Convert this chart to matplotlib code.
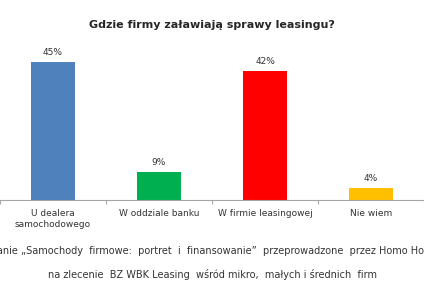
import matplotlib
matplotlib.use("Agg")
import matplotlib.pyplot as plt
import numpy as np

# chart data
categories = ["U dealera\nsamochodowego", "W oddziale banku", "W firmie leasingowej", "Nie wiem"]
values = [45, 9, 42, 4]
value_labels = ["45%", "9%", "42%", "4%"]
colors = ["#4F81BD", "#00B050", "#FF0000", "#FFC000"]

title = "Gdzie firmy załawiają sprawy leasingu?"
note_1 = "Badanie „Samochody  firmowe:  portret  i  finansowanie”  przeprowadzone  przez Homo Homini"
note_2 = "na zlecenie  BZ WBK Leasing  wśród mikro,  małych i średnich  firm"

W, H = 424, 285
fig = plt.figure(figsize=(W / 100, H / 100), dpi=100)
fig.patch.set_facecolor("white")

# axes placed in pixel terms: baseline at y=200, 1% ~ 3.07 px
ax = fig.add_axes([0, (H - 200) / H, 1, 153.5 / H])
x = np.arange(len(values))
ax.bar(x, values, width=0.41, color=colors)
ax.set_xlim(-0.5, len(values) - 0.5)
ax.set_ylim(0, 50)

for xi, v, lab in zip(x, values, value_labels):
    ax.text(xi, v + 1.6, lab, ha="center", va="bottom", fontsize=6.5, color="#333333")

for s in ["top", "left", "right"]:
    ax.spines[s].set_visible(False)
ax.spines["bottom"].set_color("#A6A6A6")
ax.spines["bottom"].set_linewidth(0.8)
ax.set_yticks([])

ax.set_xticks(x)
ax.set_xticklabels(categories, fontsize=6.5, color="#333333", linespacing=1.35)
ax.tick_params(axis="x", which="major", length=0, pad=6.5)
ax.set_xticks(np.arange(-0.5, len(values)), minor=True)
ax.tick_params(axis="x", which="minor", length=3, color="#A6A6A6", width=0.8)

fig.text(0.5, 1 - 25 / H, title, ha="center", va="center", fontsize=8.0,
         fontweight="bold", color="#262626")
fig.text(0.5, 1 - 251 / H, note_1, ha="center", va="center", fontsize=7.0, color="#333333")
fig.text(0.5, 1 - 274 / H, note_2, ha="center", va="center", fontsize=7.0, color="#333333")

fig.savefig("out.png", dpi=100)
